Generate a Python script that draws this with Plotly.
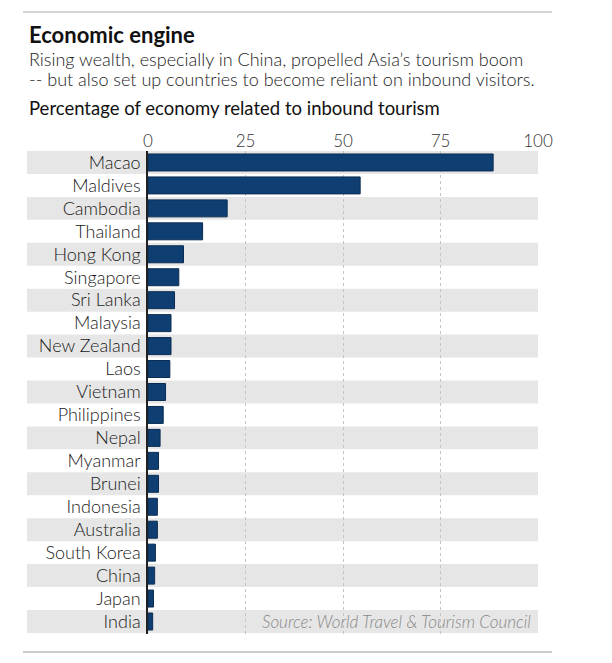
import plotly.graph_objects as go

countries = ["Macao", "Maldives", "Cambodia", "Thailand", "Hong Kong", "Singapore",
             "Sri Lanka", "Malaysia", "New Zealand", "Laos", "Vietnam", "Philippines",
             "Nepal", "Myanmar", "Brunei", "Indonesia", "Australia", "South Korea",
             "China", "Japan", "India"]
values = [88.5, 54.4, 20.3, 14.0, 9.1, 7.9, 6.8, 5.9, 5.9, 5.6, 4.5, 3.9,
          3.1, 2.7, 2.7, 2.4, 2.4, 1.9, 1.7, 1.4, 1.2]
x_ticks = [0, 25, 50, 75, 100]

FONT = "Lato"
W, H = 612, 663
L, R, T, B = 148, 74, 151, 29

fig = go.Figure(go.Bar(
    x=values, y=countries, orientation="h",
    marker=dict(color="#0f3f72", line=dict(color="#0a2c52", width=1)),
    width=0.74, hoverinfo="skip",
))

shapes = []
pw = W - L - R
ph = H - T - B
x_left = (27 - L) / pw
for i, c in enumerate(countries):
    if i % 2 == 0:
        shapes.append(dict(type="rect", xref="paper", yref="y", layer="below",
                           x0=x_left, x1=1, y0=i - 0.5, y1=i + 0.5,
                           fillcolor="#e6e6e6", line=dict(width=0)))

def py(ypix):
    return 1 - (ypix - T) / ph

# top and bottom rules
shapes.append(dict(type="line", xref="paper", yref="paper", x0=(23 - L) / pw, x1=(552 - L) / pw,
                   y0=py(12), y1=py(12), line=dict(color="#aaaaaa", width=1.2)))
shapes.append(dict(type="line", xref="paper", yref="paper", x0=(23 - L) / pw, x1=(552 - L) / pw,
                   y0=py(652), y1=py(652), line=dict(color="#999999", width=1.2)))

def txt(text, ypix, size, color, weight=300):
    return dict(text=text, xref="paper", yref="paper", x=(27 - L) / pw, y=py(ypix),
                xanchor="left", yanchor="middle", showarrow=False,
                font=dict(family=FONT, size=size, color=color, weight=weight))

annotations = [
    txt("<b>Economic engine</b>", 35, 22, "#111111", weight=700),
    txt("Rising wealth, especially in China, propelled Asia\u2019s tourism boom", 59.5, 18, "#222222"),
    txt("-- but also set up countries to become reliant on inbound visitors.", 78.5, 18, "#222222"),
    txt("Percentage of economy related to inbound tourism", 108, 18.5, "#111111", weight=400),
    dict(text="<i>Source: World Travel &amp; Tourism Council</i>",
         xref="x", yref="y", x=98.6, y="India",
         xanchor="right", yanchor="middle", showarrow=False,
         font=dict(family=FONT, size=17, color="#888888", weight=300)),
]

fig.update_layout(
    width=W, height=H, margin=dict(l=L, r=R, t=T, b=B),
    paper_bgcolor="white", plot_bgcolor="rgba(0,0,0,0)",
    showlegend=False,
    shapes=shapes, annotations=annotations,
    font=dict(family=FONT, size=18, color="#222222"),
    xaxis=dict(side="top", range=[0, 100], tickvals=x_ticks,
               ticktext=[str(v) for v in x_ticks],
               showgrid=True, gridcolor="#c4c4c4", griddash="dot", gridwidth=1,
               zeroline=False, showline=False, ticks="",
               tickfont=dict(family=FONT, size=17, color="#333333", weight=300),
               fixedrange=True),
    yaxis=dict(autorange="reversed", showgrid=False, zeroline=False,
               showline=True, linecolor="#222222", linewidth=1.5,
               ticks="outside", ticklen=2, tickcolor="rgba(0,0,0,0)",
               tickfont=dict(family=FONT, size=18, color="#1a1a1a", weight=300),
               fixedrange=True),
)

fig.write_html("out.html")
